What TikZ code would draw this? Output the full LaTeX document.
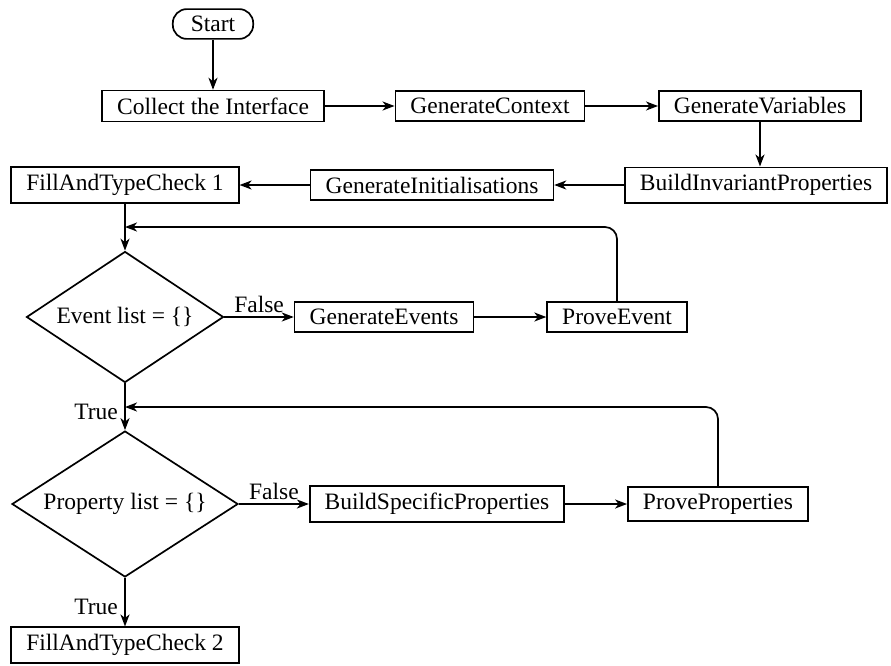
\documentclass[tikz,border=0pt]{standalone}
\usepackage{fontspec}
\setmainfont{Liberation Serif}
\usetikzlibrary{shapes.geometric, arrows.meta}

\begin{document}
\begin{tikzpicture}[x=1pt, y=-1pt, line width=1.7pt,
  font=\fontsize{23.5}{28}\selectfont,
  >={Stealth[length=12pt, width=9pt, inset=3.5pt]},
  box/.style={draw, rectangle, inner xsep=15pt, inner ysep=7pt},
  startbox/.style={draw, rectangle, rounded corners=14pt, inner xsep=18pt, inner ysep=7pt},
  decision/.style={draw, diamond, aspect=1.5, inner sep=0pt}]
\useasboundingbox (0,0) rectangle (891,665);
% one unit = one pixel of the 891x665 picture, y grows downwards
\node [startbox] (start) at (213,24) {Start};
\node [box] (collect) at (213,106) {Collect the Interface};
\node [box] (context) at (490,106) {GenerateContext};
\node [box] (vars) at (760,106) {GenerateVariables};
\node [box] (invprops) at (756,185) {BuildInvariantProperties};
\node [box] (inits) at (432,185) {GenerateInitialisations};
\node [box] (check1) at (125,185) {FillAndTypeCheck 1};
\node [decision, minimum width=197pt, minimum height=131pt] (events) at (125,317) {Event list = \{\}};
\node [box] (genevents) at (384,317) {GenerateEvents};
\node [box] (prove) at (617,317) {ProveEvent};
\node [decision, minimum width=226pt, minimum height=146pt] (props) at (125,504) {Property list = \{\}};
\node [box] (specprops) at (437,504) {BuildSpecificProperties};
\node [box] (proveprops) at (718,504) {ProveProperties};
\node [box] (check2) at (125,645) {FillAndTypeCheck 2};
\coordinate (loopa) at (125,227);
\coordinate (loopb) at (125,407);

\draw[->] (start) -- (collect);
\draw[->] (collect) -- (context);
\draw[->] (context) -- (vars);
\draw[->] (vars.south) -- (vars.south |- invprops.north);
\draw[->] (invprops) -- (inits);
\draw[->] (inits) -- (check1);
\draw[->] (check1) -- (events);
\draw[->] (events) -- node[above] {False} (genevents);
\draw[->] (genevents) -- (prove);
\draw[->, rounded corners=12pt] (prove.north) |- (loopa);
\draw[->] (events) -- node[left=3pt, pos=0.62] {True} (props);
\draw[->] (props) -- node[above] {False} (specprops);
\draw[->] (specprops) -- (proveprops);
\draw[->, rounded corners=12pt] (proveprops.north) |- (loopb);
\draw[->] (props) -- node[left=3pt, pos=0.6] {True} (check2);
\end{tikzpicture}
\end{document}
